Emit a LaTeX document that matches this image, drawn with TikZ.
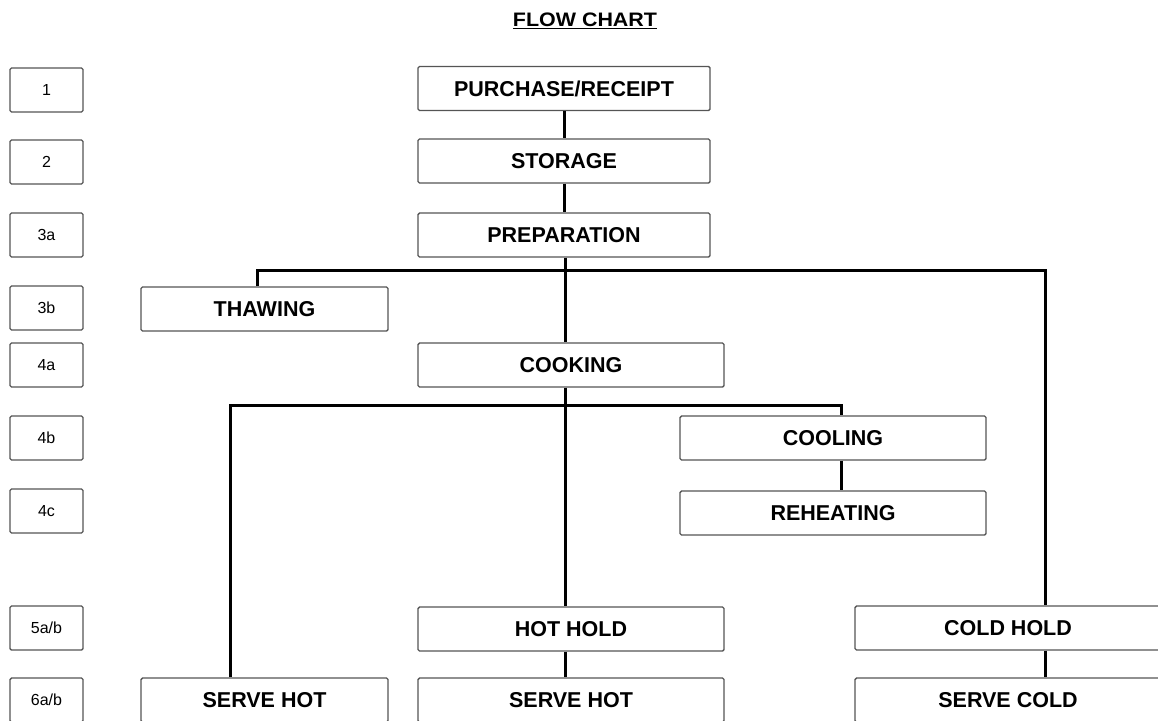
\documentclass[tikz,border=0pt]{standalone}
\usepackage{fontspec}
\setmainfont{Liberation Sans}
\newfontfamily\titlefont{Liberation Sans}[FakeStretch=1.1]
\usepackage{tikz}
\usetikzlibrary{positioning,calc}
\definecolor{boxline}{RGB}{85,85,85}

\begin{document}
\begin{tikzpicture}[
    x=1pt, y=-1pt,
    box/.style={draw=boxline, line width=1.4pt, rounded corners=1.5pt, fill=white,
        minimum width=292pt, minimum height=44pt, inner sep=0pt,
        font=\fontsize{21.5}{24}\selectfont\bfseries},
    wide/.style={box, minimum width=306pt},
    short/.style={box, minimum width=247pt},
    numbox/.style={draw=boxline, line width=1.4pt, rounded corners=1.5pt,
        minimum width=73pt, minimum height=44pt, inner sep=0pt,
        font=\fontsize{16}{18}\selectfont},
    link/.style={line width=3pt, black}
]
    \clip (0,0) rectangle (1158,720);

    % Title
    \node[font=\titlefont\fontsize{19.5}{22}\selectfont\bfseries] (title) at (585,21) {\underline{FLOW CHART}};

    % Step numbers
    \node[numbox] (n1) at (46.5,90) {1};
    \node[numbox] (n2) at (46.5,162) {2};
    \node[numbox] (n3a) at (46.5,235) {3a};
    \node[numbox] (n3b) at (46.5,308) {3b};
    \node[numbox] (n4a) at (46.5,365) {4a};
    \node[numbox] (n4b) at (46.5,438) {4b};
    \node[numbox] (n4c) at (46.5,511) {4c};
    \node[numbox] (n5) at (46.5,628) {5a/b};
    \node[numbox] (n6) at (46.5,700) {6a/b};

    % Main steps
    \node[box] (buy) at (564,88.5) {PURCHASE/RECEIPT};
    \node[box] (store) at (564,161) {STORAGE};
    \node[box] (prep) at (564,235) {PREPARATION};
    \node[short] (thaw) at (264.5,309) {THAWING};
    \node[wide] (cook) at (571,365) {COOKING};
    \node[wide] (cool) at (833,438) {COOLING};
    \node[wide] (reheat) at (833,513) {REHEATING};

    % Holding and serving
    \node[wide] (hothold) at (571,629) {HOT HOLD};
    \node[wide] (coldhold) at (1008,628) {COLD HOLD};
    \node[short] (servea) at (264.5,700) {SERVE HOT};
    \node[wide] (serveb) at (571,700) {SERVE HOT};
    \node[wide] (servec) at (1008,700) {SERVE COLD};

    % Branch points
    \coordinate (split1) at (565,270);
    \coordinate (split2) at (565,405);

    % Connections
    \draw[link] (buy) -- (store);
    \draw[link] (store) -- (prep);
    \draw[link] (prep.south -| split1) -- (split1) -- (split1 |- cook.north);
    \draw[link] (thaw.north -| 257,0) |- (split1) -| (coldhold.north -| 1045,0);
    \draw[link] (cook.south -| split2) -- (split2) -- (split2 |- hothold.north);
    \draw[link] (servea.north -| 230,0) |- (split2) -| (cool.north -| 841,0);
    \draw[link] (cool.south -| 841,0) -- (reheat.north -| 841,0);
    \draw[link] (hothold.south -| split2) -- (serveb.north -| split2);
    \draw[link] (coldhold.south -| 1045,0) -- (servec.north -| 1045,0);
\end{tikzpicture}
\end{document}
